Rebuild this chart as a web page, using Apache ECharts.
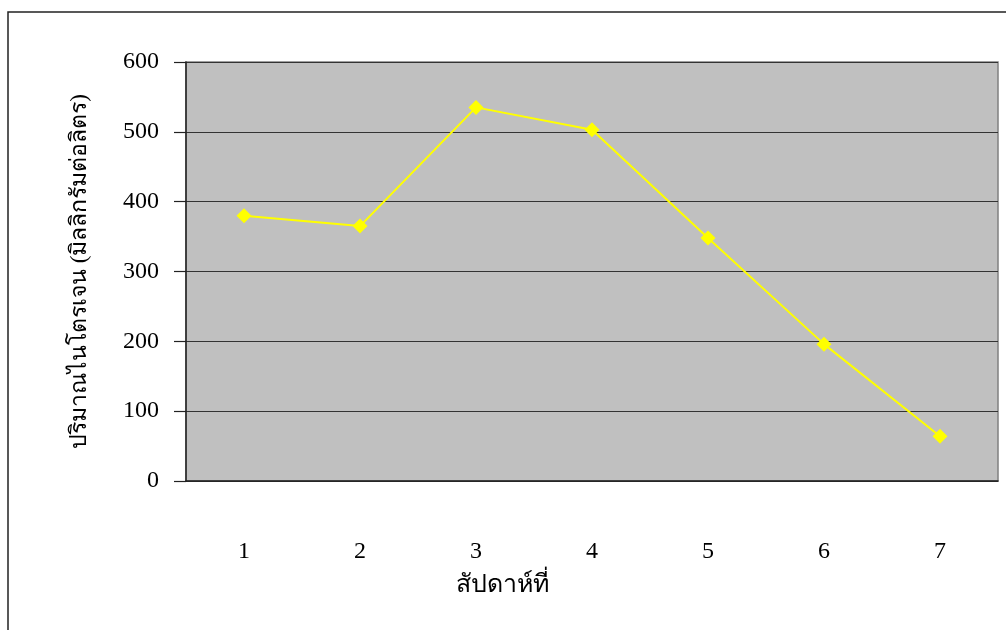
<!DOCTYPE html>
<html>
<head>
<meta charset="utf-8">
<script src="https://cdn.jsdelivr.net/npm/echarts@6/dist/echarts.min.js"></script>
<style>
html,body{margin:0;padding:0;background:#fff;}
#main{width:1006px;height:630px;}
</style>
</head>
<body>
<div id="main"></div>
<script>
const categories = ['1','2','3','4','5','6','7'];
const values = [380, 365, 535, 503, 348, 196, 64];
const yTicks = [0, 100, 200, 300, 400, 500, 600];
const xName = 'สัปดาห์ที่';
const yName = 'ปริมาณไนโตรเจน (มิลลิกรัมต่อลิตร)';

const FONT = '"Liberation Serif", "Times New Roman", serif';
const chart = echarts.init(document.getElementById('main'));
chart.setOption({
  animation: false,
  backgroundColor: '#fff',
  graphic: [{
    type: 'rect',
    shape: {x: 8, y: 12, width: 1010, height: 630},
    style: {fill: 'none', stroke: '#222', lineWidth: 1.5},
    silent: true
  }],
  grid: {
    left: 186, right: 8, top: 62, bottom: 149,
    show: true, backgroundColor: '#c0c0c0', borderColor: '#808080', borderWidth: 1.5
  },
  xAxis: {
    type: 'category',
    data: categories,
    boundaryGap: true,
    axisLine: {lineStyle: {color: '#222', width: 1.5}},
    axisTick: {length: 11, lineStyle: {color: '#222', width: 1.2}},
    axisLabel: {margin: 59, fontFamily: FONT, fontSize: 24, color: '#000'},
    name: xName,
    nameLocation: 'middle',
    nameGap: 92,
    nameTextStyle: {fontFamily: FONT, fontSize: 25, color: '#000', padding: [0, 180, 0, 0]}
  },
  yAxis: {
    type: 'value',
    min: yTicks[0], max: yTicks[yTicks.length - 1], interval: 100,
    axisLine: {show: true, lineStyle: {color: '#222', width: 1.5}},
    axisTick: {show: true, length: 12, lineStyle: {color: '#222', width: 1.2}},
    axisLabel: {margin: 27, fontFamily: FONT, fontSize: 24, color: '#000'},
    splitLine: {lineStyle: {color: '#333', width: 1.2}},
    name: yName,
    nameLocation: 'middle',
    nameGap: 95,
    nameRotate: 90,
    nameTextStyle: {fontFamily: FONT, fontSize: 23, color: '#000'}
  },
  series: [{
    type: 'line',
    data: values,
    symbol: 'diamond',
    symbolSize: 15,
    lineStyle: {color: '#ffff00', width: 2},
    itemStyle: {color: '#ffff00'}
  }]
});
</script>
</body>
</html>
